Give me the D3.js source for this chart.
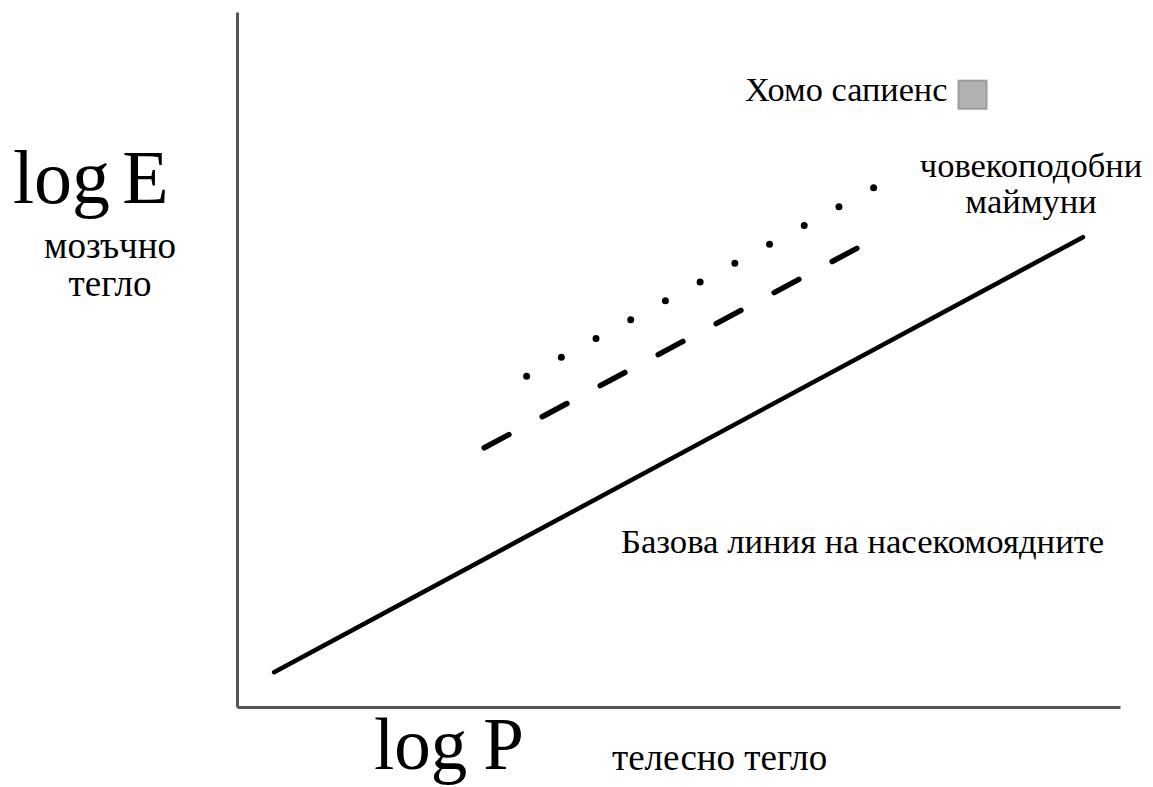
<!DOCTYPE html>
<html>
	<head>
		<meta charset="utf-8">
		<script src="https://cdnjs.cloudflare.com/ajax/libs/d3/7.8.5/d3.min.js" charset="utf-8"></script>
		<style>
			body { margin: 0; background: #fff; }
			text { font-family: "Liberation Serif", "Times New Roman", serif; fill: #000; }
		</style>
	</head>
	<body>
		<div id="chart"></div>

		<script>

///////// data (arbitrary log units) /////////

	var baseLineX = [4.2, 95.8],   baseLineY = [5.0, 67.6];   // insectivore baseline
	var apesLowX  = [28.0, 70.2],  apesLowY  = [37.3, 66.0];  // dashed
	var apesHighX = [32.8, 72.1],  apesHighY = [47.6, 74.7];  // dotted
	var homoX = [83.3], homoY = [88.1];                        // homo sapiens marker

	var axisLabels = ["log", "E", "P"];
	var axisNames = ["мозъчно", "тегло", "телесно тегло"];
	var seriesLabels = ["Базова линия на насекомоядните", "човекоподобни", "маймуни", "Хомо сапиенс"];

///////// SVG container /////////

	var width = 1153, height = 787;
	var plot = { left: 237, right: 1120, top: 12, bottom: 707 };

	var svg = d3.select("#chart")
		.append("svg")
		.attr("width", width)
		.attr("height", height);

	var x = d3.scaleLinear().domain([0, 100]).range([plot.left, plot.right]);
	var y = d3.scaleLinear().domain([0, 100]).range([plot.bottom, plot.top]);

	// axes, no ticks
	var axisColor = "#555";
	svg.append("g")
		.attr("transform", "translate(" + plot.left + ",0)")
		.call(d3.axisLeft(y).tickValues([]).tickSizeOuter(0))
		.select(".domain").attr("stroke", axisColor).attr("stroke-width", 3);
	svg.append("g")
		.attr("transform", "translate(0," + plot.bottom + ")")
		.call(d3.axisBottom(x).tickValues([]).tickSizeOuter(0))
		.select(".domain").attr("stroke", axisColor).attr("stroke-width", 3);

///////// lines /////////

	var line = d3.line().x(function(d) { return x(d[0]); }).y(function(d) { return y(d[1]); });
	function pts(xs, ys) { return xs.map(function(v, i) { return [v, ys[i]]; }); }

	svg.append("path")
		.attr("d", line(pts(baseLineX, baseLineY)))
		.attr("fill", "none")
		.attr("stroke", "#000")
		.attr("stroke-width", 4.5)
		.attr("stroke-linecap", "round");

	var dashed = svg.append("path")
		.attr("d", line(pts(apesLowX, apesLowY)))
		.attr("fill", "none")
		.attr("stroke", "#000")
		.attr("stroke-width", 5.5)
		.attr("stroke-linecap", "round");
	var L = dashed.node().getTotalLength();
	var dash = 28, gap = (L - 7 * dash) / 6;
	dashed.attr("stroke-dasharray", dash + " " + gap);

	var dotted = svg.append("path")
		.attr("d", line(pts(apesHighX, apesHighY)))
		.attr("fill", "none")
		.attr("stroke", "#000")
		.attr("stroke-width", 7)
		.attr("stroke-linecap", "round");
	var L2 = dotted.node().getTotalLength();
	dotted.attr("stroke-dasharray", "0 " + (L2 / 10));

	// homo sapiens marker
	var sq = 28;
	svg.selectAll(".homo")
		.data(pts(homoX, homoY))
		.enter().append("rect")
		.attr("class", "homo")
		.attr("x", function(d) { return x(d[0]) - sq / 2; })
		.attr("y", function(d) { return y(d[1]) - sq / 2; })
		.attr("width", sq)
		.attr("height", sq)
		.attr("fill", "#b2b2b2")
		.attr("stroke", "#9c9c9c")
		.attr("stroke-width", 2);

///////// labels /////////

	var logE = svg.append("text").attr("x", 13).attr("y", 203).style("font-size", "76px");
	logE.append("tspan").text(axisLabels[0]);
	logE.append("tspan").attr("dx", 12).text(axisLabels[1]);

	var logP = svg.append("text").attr("x", 374).attr("y", 769).style("font-size", "73px");
	logP.append("tspan").text(axisLabels[0]);
	logP.append("tspan").attr("dx", 16).text(axisLabels[2]);

	svg.append("text").attr("x", 110).attr("y", 258).attr("text-anchor", "middle").style("font-size", "37px").text(axisNames[0]);
	svg.append("text").attr("x", 110).attr("y", 296).attr("text-anchor", "middle").style("font-size", "37px").text(axisNames[1]);
	svg.append("text").attr("x", 612).attr("y", 770).style("font-size", "37px").text(axisNames[2]);

	svg.append("text").attr("x", 621).attr("y", 553).style("font-size", "34.7px").text(seriesLabels[0]);
	svg.append("text").attr("x", 1031).attr("y", 177).attr("text-anchor", "middle").style("font-size", "34.5px").text(seriesLabels[1]);
	svg.append("text").attr("x", 1031).attr("y", 213).attr("text-anchor", "middle").style("font-size", "34.5px").text(seriesLabels[2]);
	svg.append("text").attr("x", 745).attr("y", 101).style("font-size", "34.3px").text(seriesLabels[3]);

		</script>
	</body>
</html>
